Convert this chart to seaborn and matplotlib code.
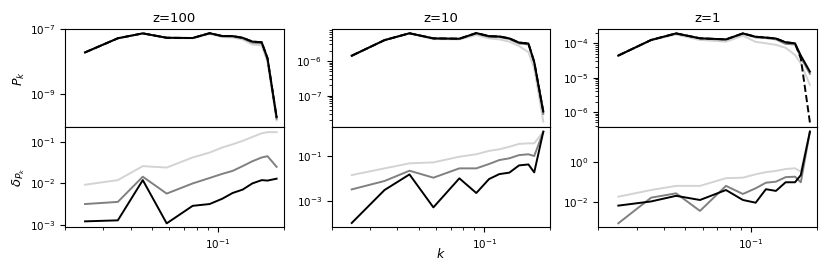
import numpy as np
import pandas as pd
import matplotlib
matplotlib.use("Agg")
import matplotlib.pyplot as plt
import matplotlib.ticker as mticker
import seaborn as sns

# ---- data ----
k = [0.0247, 0.0349, 0.0454, 0.0584, 0.0768, 0.0918, 0.105, 0.117, 0.130, 0.144, 0.159, 0.169, 0.186]
redshifts = ["z=100", "z=10", "z=1"]

# power spectra (top row): light, medium, dark(black), reference(dashed)
pk_z100_light = [1.95e-8, 5.3e-8, 7.4e-8, 5.4e-8, 5.3e-8, 7.2e-8, 5.8e-8, 5.6e-8, 4.9e-8, 3.4e-8, 3.2e-8, 1.0e-8, 1.6e-10]
pk_z100_mid = [1.95e-8, 5.3e-8, 7.5e-8, 5.5e-8, 5.4e-8, 7.5e-8, 6.1e-8, 6.0e-8, 5.3e-8, 3.9e-8, 3.7e-8, 1.15e-8, 1.8e-10]
pk_z100_dark = [1.95e-8, 5.3e-8, 7.5e-8, 5.5e-8, 5.4e-8, 7.6e-8, 6.2e-8, 6.2e-8, 5.5e-8, 4.2e-8, 4.0e-8, 1.3e-8, 2.0e-10]
pk_z100_ref = [1.95e-8, 5.3e-8, 7.5e-8, 5.5e-8, 5.4e-8, 7.6e-8, 6.2e-8, 6.2e-8, 5.5e-8, 4.2e-8, 4.0e-8, 1.3e-8, 2.0e-10]

pk_z10_light = [1.42e-6, 4.0e-6, 6.2e-6, 4.3e-6, 4.2e-6, 5.6e-6, 4.5e-6, 4.2e-6, 3.6e-6, 2.7e-6, 1.8e-6, 6.1e-7, 1.8e-8]
pk_z10_mid = [1.42e-6, 4.0e-6, 6.3e-6, 4.4e-6, 4.3e-6, 6.2e-6, 5.0e-6, 4.9e-6, 4.3e-6, 3.2e-6, 3.0e-6, 8.8e-7, 3.0e-8]
pk_z10_dark = [1.42e-6, 4.0e-6, 6.3e-6, 4.5e-6, 4.4e-6, 6.4e-6, 5.2e-6, 5.1e-6, 4.5e-6, 3.4e-6, 3.2e-6, 9.5e-7, 3.5e-8]
pk_z10_ref = [1.42e-6, 4.0e-6, 6.3e-6, 4.5e-6, 4.4e-6, 6.4e-6, 5.2e-6, 5.1e-6, 4.5e-6, 3.4e-6, 3.2e-6, 9.5e-7, 3.5e-8]

pk_z1_light = [4.4e-5, 1.22e-4, 1.8e-4, 1.25e-4, 1.12e-4, 1.66e-4, 1.1e-4, 1.0e-4, 9.0e-5, 7.4e-5, 4.6e-5, 2.6e-5, 6.2e-6]
pk_z1_mid = [4.4e-5, 1.24e-4, 1.9e-4, 1.37e-4, 1.27e-4, 1.9e-4, 1.48e-4, 1.42e-4, 1.3e-4, 9.6e-5, 9.3e-5, 3.9e-5, 1.3e-5]
pk_z1_dark = [4.4e-5, 1.25e-4, 1.94e-4, 1.4e-4, 1.3e-4, 1.94e-4, 1.55e-4, 1.47e-4, 1.38e-4, 1.07e-4, 1.0e-4, 4.4e-5, 1.5e-5]
pk_z1_ref = [4.4e-5, 1.25e-4, 1.94e-4, 1.4e-4, 1.3e-4, 1.94e-4, 1.55e-4, 1.47e-4, 1.38e-4, 1.07e-4, 1.0e-4, 3.6e-5, 5.0e-7]

# relative errors (bottom row)
dpk_z100_light = [9.3e-3, 1.2e-2, 2.6e-2, 2.4e-2, 4.2e-2, 5.5e-2, 7.3e-2, 8.7e-2, 0.105, 0.13, 0.16, 0.17, 0.17]
dpk_z100_mid = [3.2e-3, 3.6e-3, 1.45e-2, 5.7e-3, 1.0e-2, 1.35e-2, 1.7e-2, 2.0e-2, 2.6e-2, 3.4e-2, 4.2e-2, 4.5e-2, 2.5e-2]
dpk_z100_dark = [1.23e-3, 1.3e-3, 1.2e-2, 1.1e-3, 2.9e-3, 3.2e-3, 4.3e-3, 5.9e-3, 7.1e-3, 1.0e-2, 1.2e-2, 1.17e-2, 1.3e-2]

dpk_z10_light = [1.4e-2, 2.8e-2, 4.7e-2, 5.2e-2, 9.3e-2, 0.12, 0.17, 0.2, 0.26, 0.35, 0.37, 0.37, 1.23]
dpk_z10_mid = [3.2e-3, 7.6e-3, 2.2e-2, 1.07e-2, 2.8e-2, 2.8e-2, 4.4e-2, 6.6e-2, 7.9e-2, 0.11, 0.12, 0.1, 1.23]
dpk_z10_dark = [1.0e-4, 3.0e-3, 1.5e-2, 5.0e-4, 1.0e-2, 2.2e-3, 9.3e-3, 1.55e-2, 1.8e-2, 3.8e-2, 4.2e-2, 1.85e-2, 1.23]

dpk_z1_light = [1.9e-2, 4.1e-2, 6.6e-2, 6.6e-2, 0.16, 0.17, 0.25, 0.32, 0.37, 0.46, 0.5, 0.34, 34.0]
dpk_z1_mid = [8.9e-4, 1.7e-2, 2.8e-2, 3.7e-3, 6.6e-2, 2.6e-2, 5.0e-2, 9.5e-2, 0.107, 0.18, 0.19, 0.1, 34.0]
dpk_z1_dark = [6.8e-3, 1.1e-2, 2.1e-2, 1.3e-2, 4.1e-2, 1.3e-2, 9.5e-3, 4.5e-2, 3.7e-2, 0.1, 0.1, 0.23, 34.0]

top_series = [
    (pk_z100_light, pk_z100_mid, pk_z100_dark, pk_z100_ref),
    (pk_z10_light, pk_z10_mid, pk_z10_dark, pk_z10_ref),
    (pk_z1_light, pk_z1_mid, pk_z1_dark, pk_z1_ref),
]
bot_series = [
    (dpk_z100_light, dpk_z100_mid, dpk_z100_dark),
    (dpk_z10_light, dpk_z10_mid, dpk_z10_dark),
    (dpk_z1_light, dpk_z1_mid, dpk_z1_dark),
]

# ---- style ----
colors = ["#d3d3d3", "#808080", "#000000"]
top_ylims = [(1e-10, 1e-7), (1.26e-8, 8.2e-6), (3.7e-7, 2.55e-4)]
bot_ylims = [(9e-4, 0.226), (6.6e-5, 2.0), (5.8e-4, 58)]
top_yticks = [[1e-9, 1e-7], [1e-7, 1e-6], [1e-6, 1e-5, 1e-4]]
bot_yticks = [[1e-3, 1e-2, 1e-1], [1e-3, 1e-1], [1e-2, 1e0]]
top_minor = [False, True, True]

W, H = 830, 277
fig = plt.figure(figsize=(W / 100, H / 100), dpi=100)
lefts = [65, 331.7, 598.3]
width = 218.5
y_top, y_mid, y_bot = 29.3, 127, 227

tick_fs = 7.5
for i in range(3):
    x0 = lefts[i] / W
    w = width / W
    ax_t = fig.add_axes([x0, 1 - y_mid / H, w, (y_mid - y_top) / H])
    ax_b = fig.add_axes([x0, 1 - y_bot / H, w, (y_bot - y_mid) / H], sharex=ax_t)

    light, mid, dark, ref = top_series[i]
    for vals, c in zip((light, mid, dark), colors):
        df = pd.DataFrame({"k": k, "v": vals})
        sns.lineplot(data=df, x="k", y="v", ax=ax_t, color=c, lw=1.4,
                     estimator=None, sort=False, legend=False)
    dfr = pd.DataFrame({"k": k, "v": ref})
    sns.lineplot(data=dfr, x="k", y="v", ax=ax_t, color="black", lw=1.4,
                 linestyle="--", estimator=None, sort=False, legend=False)

    for vals, c in zip(bot_series[i], colors):
        df = pd.DataFrame({"k": k, "v": vals})
        sns.lineplot(data=df, x="k", y="v", ax=ax_b, color=c, lw=1.4,
                     estimator=None, sort=False, legend=False)

    for ax in (ax_t, ax_b):
        ax.set_xscale("log")
        ax.set_yscale("log")
        ax.set_xlabel("")
        ax.set_ylabel("")
        ax.tick_params(labelsize=tick_fs, length=3.5, width=0.8)
        ax.tick_params(which="minor", length=2, width=0.6)
        for s in ax.spines.values():
            s.set_linewidth(0.8)
    ax_t.set_xlim(0.02, 0.2)
    ax_t.set_ylim(*top_ylims[i])
    ax_b.set_ylim(*bot_ylims[i])
    ax_t.yaxis.set_major_locator(mticker.FixedLocator(top_yticks[i]))
    ax_b.yaxis.set_major_locator(mticker.FixedLocator(bot_yticks[i]))
    ax_t.yaxis.set_major_formatter(mticker.LogFormatterSciNotation())
    ax_b.yaxis.set_major_formatter(mticker.LogFormatterSciNotation())
    if top_minor[i]:
        ax_t.yaxis.set_minor_locator(mticker.LogLocator(base=10, subs=np.arange(2, 10), numticks=20))
    else:
        ax_t.yaxis.set_minor_locator(mticker.NullLocator())
    ax_b.yaxis.set_minor_locator(mticker.NullLocator())
    ax_t.yaxis.set_minor_formatter(mticker.NullFormatter())
    ax_b.yaxis.set_minor_formatter(mticker.NullFormatter())

    ax_b.xaxis.set_major_locator(mticker.FixedLocator([0.1]))
    ax_b.xaxis.set_major_formatter(mticker.LogFormatterSciNotation())
    ax_b.xaxis.set_minor_locator(mticker.LogLocator(base=10, subs=np.arange(2, 10), numticks=20))
    ax_b.xaxis.set_minor_formatter(mticker.NullFormatter())
    ax_t.tick_params(axis="x", which="both", bottom=False, labelbottom=False)

    ax_t.set_title(redshifts[i], fontsize=9.5, pad=5)
    if i == 0:
        ax_t.set_ylabel(r"$P_k$", fontsize=9)
        ax_b.set_ylabel(r"$\delta_{P_k}$", fontsize=9.5)
        ax_t.yaxis.set_label_coords(-0.172, 0.5)
        ax_b.yaxis.set_label_coords(-0.172, 0.5)
    if i == 1:
        ax_b.set_xlabel(r"$k$", fontsize=9)
        ax_b.xaxis.set_label_coords(0.5, -0.205)

fig.savefig("out.png", dpi=100)
